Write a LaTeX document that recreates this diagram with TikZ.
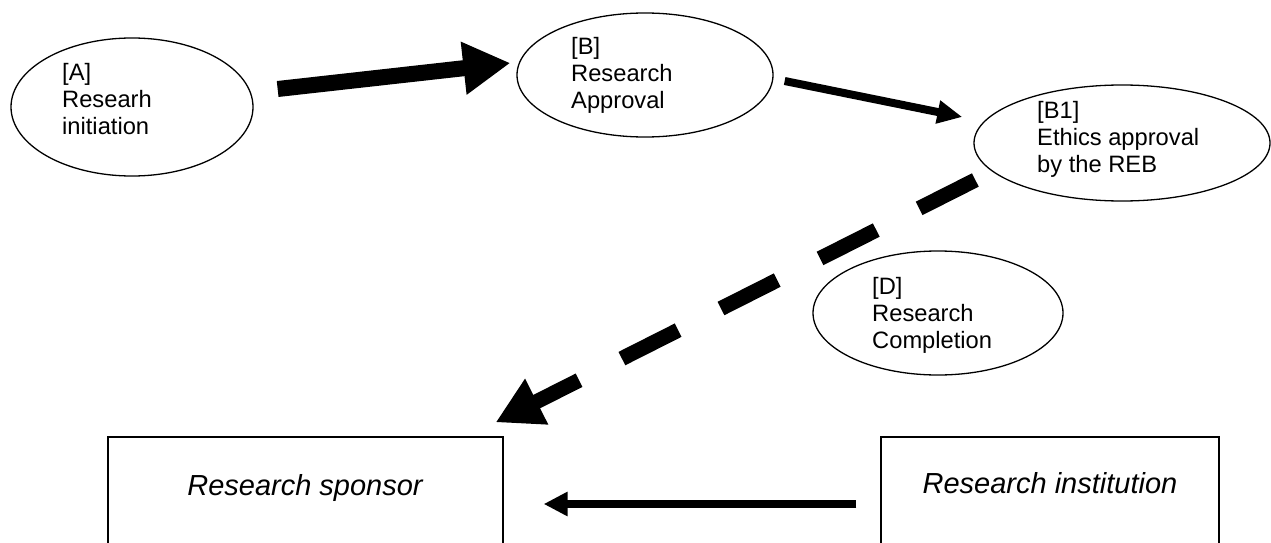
\documentclass[tikz,border=0pt]{standalone}
\usepackage{fontspec}
\setmainfont{Liberation Sans}
\usetikzlibrary{shapes.geometric,arrows.meta}

\begin{document}
\begin{tikzpicture}[x=1pt,y=-1pt,
        stage/.style={draw, ellipse, line width=1.3pt, inner sep=0pt},
        stagetext/.style={anchor=base west, align=left, inner sep=0pt,
            font=\fontsize{23.7}{26.8}\selectfont},
        party/.style={draw, rectangle, line width=1.3pt, minimum height=134pt, inner sep=0pt},
        partytext/.style={anchor=base, inner sep=0pt,
            font=\fontsize{29}{33}\selectfont\itshape}]
    \useasboundingbox (0,0) rectangle (1271,543);

    % stages
    \node[stage, minimum width=242pt, minimum height=138pt] (A) at (132,107) {};
    \node[stage, minimum width=256pt, minimum height=124pt] (B) at (645,75) {};
    \node[stage, minimum width=296pt, minimum height=116pt] (B1) at (1122,143) {};
    \node[stage, minimum width=250pt, minimum height=124pt] (D) at (938,313) {};

    % text sits on its last baseline
    \node[stagetext] (A-text) at (62,134) {[A]\\Researh\\initiation};
    \node[stagetext] (B-text) at (571,108) {[B]\\Research\\Approval};
    \node[stagetext] (B1-text) at (1037,172) {[B1]\\Ethics approval\\by the REB};
    \node[stagetext] (D-text) at (872,348) {[D]\\Research\\Completion};

    % parties
    \node[party, minimum width=395pt] (sponsor) at (305.5,504) {};
    \node[party, minimum width=338pt] (inst) at (1050,504) {};
    \node[partytext] (sponsor-text) at (305,495) {Research sponsor};
    \node[partytext] (inst-text) at (1050,493) {Research institution};

    % arrows
    \draw[line width=16pt, -{Triangle[length=47pt,width=50pt]}]
        ([xshift=24pt,yshift=18pt]A.east) -- ([xshift=-6pt,yshift=12pt]B.west);
    \draw[line width=8pt, -{Triangle[length=25pt,width=22pt]}]
        ([xshift=11pt,yshift=-6pt]B.east) -- ([xshift=-11pt,yshift=26pt]B1.west);
    \draw[line width=15pt, dash pattern=on 63pt off 48pt, -{Triangle[length=46pt,width=48pt]}]
        ([xshift=2pt,yshift=-37pt]B1.west) -- ([xshift=-8pt,yshift=14pt]sponsor.north east);
    \draw[line width=8pt, -{Triangle[length=24pt,width=23pt]}]
        ([xshift=-24pt]inst.west) -- ([xshift=40pt]sponsor.east);
\end{tikzpicture}
\end{document}
